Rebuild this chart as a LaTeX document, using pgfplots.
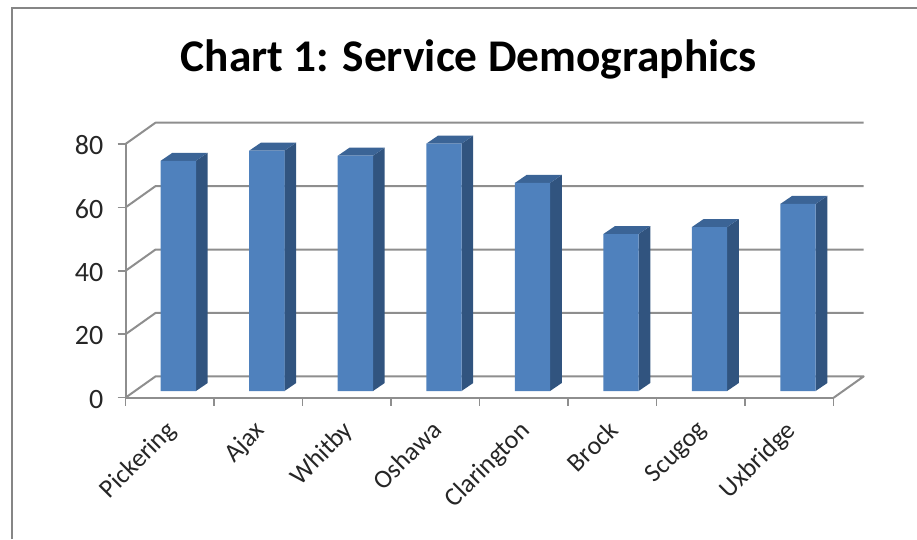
\documentclass[border=0pt]{standalone}
\usepackage{fontspec}
\setmainfont{Carlito}
\usepackage{pgfplots}
\pgfplotsset{compat=1.18}
\usepackage{pgfplotstable}
\definecolor{barfront}{HTML}{4F81BD}
\definecolor{barside}{HTML}{31547F}
\definecolor{bartop}{HTML}{3B6496}
\definecolor{wallgray}{HTML}{8E8E8E}
\definecolor{framegray}{HTML}{868686}
\definecolor{labelink}{HTML}{262626}

\pgfplotstableread{
pos   value
0.097 72.6
1.097 75.8
2.097 74.2
3.097 78.0
4.097 65.6
5.097 49.5
6.097 51.7
7.097 59.0
}\servicedata

\pgfplotsset{
  chartframe/.style={
    scale only axis, width=531.15pt, height=190.275pt,
    at={(94.125pt,105.975pt)}, anchor=south west,
    xmin=-0.5, xmax=7.5, clip=false,
  },
  wall/.style={draw=wallgray, line width=1.5pt, no markers, line join=round},
  side/.style={fill=barside, draw=none, no markers},
  lid/.style={fill=bartop, draw=none, no markers},
}

\begin{document}
\begin{tikzpicture}[x=1pt,y=1pt]
\useasboundingbox (0,0) rectangle (687.75,404.25);
% outer chart-area border: top and left edges only
\draw[framegray, line width=1.5pt] (9,0) -- (9,398.25) -- (687.75,398.25);
\node[font=\bfseries\fontsize{34}{36}\selectfont, anchor=center] at (351.5,359.5) {Chart 1: Service Demographics};

% axes, value ticks and back wall
\begin{axis}[
  chartframe,
  ymin=0, ymax=80,
  axis x line*=bottom, axis y line*=left,
  axis line style={draw=wallgray, line width=1.5pt, -},
  tick align=outside,
  ytick={0,20,40,60,80},
  xtick={0,1,2,3,4,5,6,7},
  xticklabels={Pickering,Ajax,Whitby,Oshawa,Clarington,Brock,Scugog,Uxbridge},
  minor xtick={-0.5,0.5,1.5,2.5,3.5,4.5,5.5,6.5,7.5},
  major x tick style={draw=none},
  minor x tick style={draw=wallgray, line width=1.2pt},
  minor tick length=6pt,
  major tick length=6pt,
  y tick style={draw=wallgray, line width=1.2pt},
  /pgf/number format/assume math mode=true,
  xticklabel style={font=\fontsize{19.5}{21}\selectfont, text=labelink, rotate=45, anchor=north east, inner sep=0pt, xshift=-9.7pt, yshift=-4.1pt},
  yticklabel style={font=\fontsize{21}{23}\selectfont, text=labelink, inner sep=0pt, xshift=-10.5pt, yshift=-1pt},
]
\addplot[wall] coordinates {(-0.5,80) (-0.161,86.72) (7.839,86.72)};
\addplot[wall] coordinates {(-0.5,60) (-0.161,66.72) (7.839,66.72)};
\addplot[wall] coordinates {(-0.5,40) (-0.161,46.72) (7.839,46.72)};
\addplot[wall] coordinates {(-0.5,20) (-0.161,26.72) (7.839,26.72)};
\addplot[wall] coordinates {(-0.5,0) (-0.161,6.72) (7.839,6.72) (7.5,0)};
\end{axis}

% bars stand slightly in front of the wall, so their zero sits above the axis line
\begin{axis}[
  chartframe,
  ymin=-2.11, ymax=77.89,
  hide axis,
]
% right-hand faces
\addplot[side] coordinates {(0.296,0) (0.428,2.52) (0.428,75.12) (0.296,72.6)} -- cycle;
\addplot[side] coordinates {(1.296,0) (1.428,2.52) (1.428,78.32) (1.296,75.8)} -- cycle;
\addplot[side] coordinates {(2.296,0) (2.428,2.52) (2.428,76.72) (2.296,74.2)} -- cycle;
\addplot[side] coordinates {(3.296,0) (3.428,2.52) (3.428,80.52) (3.296,78.0)} -- cycle;
\addplot[side] coordinates {(4.296,0) (4.428,2.52) (4.428,68.12) (4.296,65.6)} -- cycle;
\addplot[side] coordinates {(5.296,0) (5.428,2.52) (5.428,52.02) (5.296,49.5)} -- cycle;
\addplot[side] coordinates {(6.296,0) (6.428,2.52) (6.428,54.22) (6.296,51.7)} -- cycle;
\addplot[side] coordinates {(7.296,0) (7.428,2.52) (7.428,61.52) (7.296,59.0)} -- cycle;
% top faces
\addplot[lid] coordinates {(-0.102,72.6) (0.296,72.6) (0.428,75.12) (0.030,75.12)} -- cycle;
\addplot[lid] coordinates {(0.898,75.8) (1.296,75.8) (1.428,78.32) (1.030,78.32)} -- cycle;
\addplot[lid] coordinates {(1.898,74.2) (2.296,74.2) (2.428,76.72) (2.030,76.72)} -- cycle;
\addplot[lid] coordinates {(2.898,78.0) (3.296,78.0) (3.428,80.52) (3.030,80.52)} -- cycle;
\addplot[lid] coordinates {(3.898,65.6) (4.296,65.6) (4.428,68.12) (4.030,68.12)} -- cycle;
\addplot[lid] coordinates {(4.898,49.5) (5.296,49.5) (5.428,52.02) (5.030,52.02)} -- cycle;
\addplot[lid] coordinates {(5.898,51.7) (6.296,51.7) (6.428,54.22) (6.030,54.22)} -- cycle;
\addplot[lid] coordinates {(6.898,59.0) (7.296,59.0) (7.428,61.52) (7.030,61.52)} -- cycle;
% front faces
\addplot[ybar, bar width=26.5pt, bar shift=0pt, fill=barfront, draw=none] table[x=pos, y=value] {\servicedata};
\end{axis}
\end{tikzpicture}
\end{document}
